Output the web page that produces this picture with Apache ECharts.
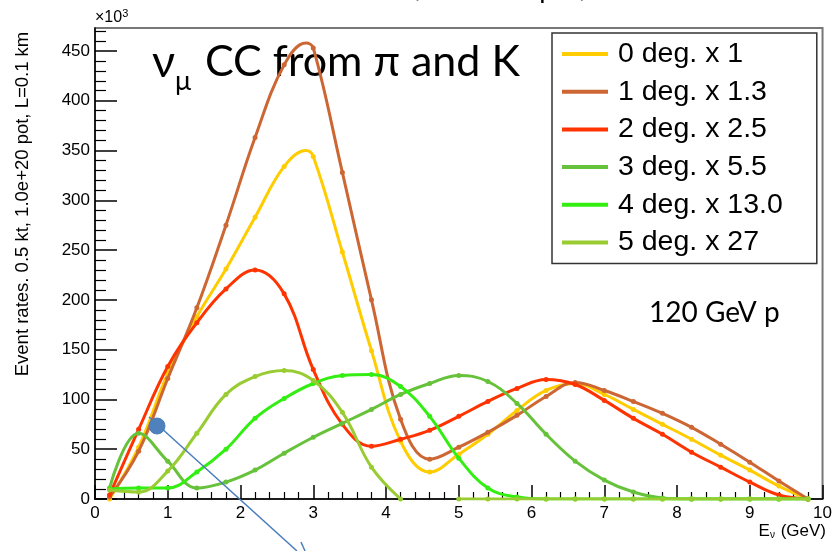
<!DOCTYPE html>
<html>
<head>
<meta charset="utf-8">
<script src="https://cdn.jsdelivr.net/npm/echarts@6/dist/echarts.min.js"></script>
<style>
html,body{margin:0;padding:0;background:#ffffff;}
#chart{width:835px;height:551px;}
</style>
</head>
<body>
<div id="chart"></div>
<script>
// ---- data (event rates, units of 10^3) ----
const energies = [0.2, 0.6, 1.0, 1.4, 1.8, 2.2, 2.6, 3.0, 3.4, 3.8, 4.2, 4.6, 5.0, 5.4, 5.8, 6.2, 6.6, 7.0, 7.4, 7.8, 8.2, 8.6, 9.0, 9.4, 9.8];
const deg0 = [0, 52, 126, 183, 231, 283, 334, 344, 248, 149, 58, 27, 45, 65, 89, 109, 116, 105, 90, 75, 60, 44, 29, 13, 0];
const deg1 = [2, 48, 121, 192, 275, 363, 436, 453, 328, 200, 80, 40, 52, 67, 84, 103, 117, 109, 98, 86, 72, 55, 37, 18, 0];
const deg2 = [4, 70, 133, 177, 211, 230, 206, 130, 75, 53, 60, 69, 83, 98, 111, 120, 115, 99, 81, 65, 47, 32, 17, 4, 0];
const deg3 = [11, 66, 38, 11, 17, 29, 46, 62, 76, 90, 105, 116, 124, 118, 96, 65, 38, 19, 7, 1, 0, 0, 0, 0, 0];
const deg4 = [10, 11, 11, 27, 50, 81, 101, 116, 124, 125, 113, 83, 41, 11, 2, 0, 0, 0, 0, 0, 0, 0, 0, 0, 0];
const deg5 = [9, 7, 28, 66, 105, 123, 129, 119, 87, 32, 0, null, 0, 0, 0, 0, 0, 0, 0, 0, 0, 0, 0, 0, 0];
// curve maxima read between bins (drawn on the line, no marker)
const peakEnergy = 2.9;
const deg0Peak = 350;
const deg1Peak = 458;
const seriesNames = ['0 deg. x 1', '1 deg. x 1.3', '2 deg. x 2.5', '3 deg. x 5.5', '4 deg. x 13.0', '5 deg. x 27'];
const xTicks = [0, 1, 2, 3, 4, 5, 6, 7, 8, 9, 10];
const yTicks = [0, 50, 100, 150, 200, 250, 300, 350, 400, 450];
const yMinorTicks = [10, 20, 30, 40, 60, 70, 80, 90, 110, 120, 130, 140, 160, 170, 180, 190, 210, 220, 230, 240, 260, 270, 280, 290, 310, 320, 330, 340, 360, 370, 380, 390, 410, 420, 430, 440, 460, 470];

// ---- styles ----
const colors = ['#FFCC00', '#CC6633', '#FF3300', '#66C23A', '#33EE11', '#99CC33'];
const allValues = [deg0, deg1, deg2, deg3, deg4, deg5];
const peaks = [deg0Peak, deg1Peak, null, null, null, null];
const FONT = '"Liberation Sans", Arial, sans-serif';
const TITLEFONT = 'Lato, "Open Sans", sans-serif';

function buildData(vals, peak) {
  const out = energies.map((e, k) => [e, vals[k]]);
  if (peak !== null) {
    out.push({ value: [peakEnergy, peak], symbol: 'none' });
    out.sort((a, b) => (a.value ? a.value[0] : a[0]) - (b.value ? b.value[0] : b[0]));
  }
  return out;
}

const series = allValues.map((vals, i) => ({
  name: seriesNames[i],
  type: 'line',
  smooth: 0.4,
  data: buildData(vals, peaks[i]),
  symbol: 'circle',
  symbolSize: 5,
  showSymbol: true,
  connectNulls: false,
  lineStyle: { color: colors[i], width: 3 },
  itemStyle: { color: colors[i] },
  emphasis: { disabled: true },
  z: 2 + i
}));

const chart = echarts.init(document.getElementById('chart'), null, { renderer: 'canvas' });
chart.setOption({
  animation: false,
  backgroundColor: '#ffffff',
  color: colors,
  grid: {
    left: 95, right: 9, top: 28, bottom: 52,
    show: true, borderColor: '#777777', borderWidth: 2, backgroundColor: 'transparent'
  },
  legend: {
    orient: 'vertical',
    left: 552, top: 33,
    padding: [6, 34, 6, 10],
    itemWidth: 46, itemHeight: 4, itemGap: 7.7,
    icon: 'rect',
    borderColor: '#333333', borderWidth: 1.5,
    backgroundColor: '#ffffff',
    selectedMode: false,
    textStyle: { fontFamily: FONT, fontSize: 28.5, color: '#000', lineHeight: 30, padding: [0, 0, 0, 5] },
    data: seriesNames
  },
  xAxis: {
    type: 'value', min: 0, max: 10, interval: 1,
    axisLine: { onZero: false, lineStyle: { color: '#000', width: 1.5 } },
    axisTick: { inside: true, length: 14, customValues: xTicks, lineStyle: { color: '#000', width: 1.5 } },
    minorTick: { show: true, splitNumber: 5, length: 7, lineStyle: { color: '#000', width: 1.2 } },
    axisLabel: { customValues: xTicks, color: '#000', fontFamily: FONT, fontSize: 17, margin: 6 },
    splitLine: { show: false }
  },
  yAxis: [{
    type: 'value', min: 0, max: 473, interval: 50,
    axisLine: { show: true, onZero: false, lineStyle: { color: '#000', width: 1.5 } },
    axisTick: { inside: true, length: 22, customValues: yTicks, lineStyle: { color: '#000', width: 1.5 } },
    axisLabel: { customValues: yTicks, color: '#000', fontFamily: FONT, fontSize: 17, margin: 5 },
    splitLine: { show: false }
  }, {
    type: 'value', min: 0, max: 473, position: 'left',
    axisLine: { show: false },
    axisTick: { show: true, inside: true, length: 11, customValues: yMinorTicks, lineStyle: { color: '#000', width: 1.2 } },
    axisLabel: { show: false },
    splitLine: { show: false }
  }],
  series: series,
  graphic: [
    // cut-off title at the very top
    { type: 'text', x: 414, y: 3, style: { text: ', 1.0e+20 pot,', fontFamily: FONT, fontSize: 28, fill: '#000', align: 'left', verticalAlign: 'bottom' } },
    // x10^3
    { type: 'text', x: 95, y: 18, style: { text: '×10{s|3}', fontFamily: FONT, fontSize: 16, fill: '#000', verticalAlign: 'middle',
      rich: { s: { fontSize: 11, fontFamily: FONT, verticalAlign: 'top', padding: [0, 0, 8, 0] } } } },
    // y axis title
    { type: 'text', x: 23, y: 204, rotation: Math.PI / 2,
      style: { text: 'Event rates. 0.5 kt, 1.0e+20 pot, L=0.1 km', fontFamily: FONT, fontSize: 18.5, fill: '#000', align: 'center', verticalAlign: 'middle' } },
    // x axis title
    { type: 'text', x: 826, y: 531,
      style: { text: 'E{n|ν} (GeV)', fontFamily: FONT, fontSize: 17, fill: '#000', align: 'right', verticalAlign: 'middle',
        rich: { n: { fontSize: 10, fontFamily: FONT, padding: [8, 1, 0, 0] } } } },
    // big label
    { type: 'text', x: 152, y: 62, style: { text: 'ν', fontFamily: TITLEFONT, fontSize: 45, fill: '#000', align: 'left', verticalAlign: 'middle' } },
    { type: 'text', x: 175, y: 81, style: { text: 'μ', fontFamily: TITLEFONT, fontSize: 27, fill: '#000', align: 'left', verticalAlign: 'middle' } },
    { type: 'text', x: 205, y: 62, style: { text: 'CC from π and K', fontFamily: TITLEFONT, fontSize: 43, fill: '#000', align: 'left', verticalAlign: 'middle' } },
    { type: 'text', x: 649, y: 313, style: { text: '120 GeV p', fontFamily: TITLEFONT, fontSize: 28, fill: '#000', align: 'left', verticalAlign: 'middle' } },
    // blue annotation
    { type: 'line', shape: { x1: 149, y1: 417, x2: 297, y2: 551 }, style: { stroke: '#4A7EBB', lineWidth: 1.5 }, z: 100 },
    { type: 'line', shape: { x1: 301, y1: 542, x2: 305, y2: 551 }, style: { stroke: '#4A7EBB', lineWidth: 1.5 }, z: 100 },
    { type: 'circle', shape: { cx: 157, cy: 426, r: 8 }, style: { fill: '#4F81BD', stroke: '#4A7EBB', lineWidth: 1 }, z: 100 }
  ]
});
</script>
</body>
</html>
